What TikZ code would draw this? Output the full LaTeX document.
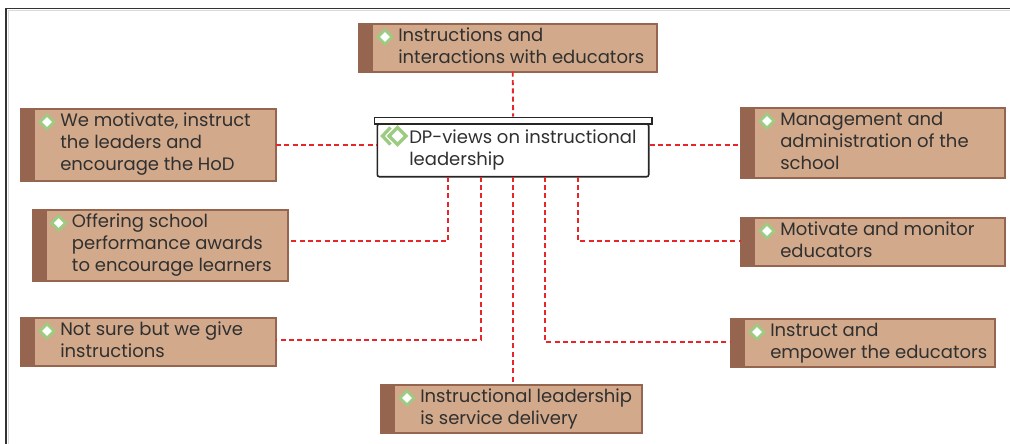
\documentclass[tikz,border=0pt]{standalone}
\usepackage{fontspec}
\setmainfont{Poppins}
\usetikzlibrary{fit,calc}
\definecolor{tanfill}{HTML}{D2A98A}
\definecolor{brn}{HTML}{96654F}
\definecolor{lnred}{HTML}{E8262A}
\definecolor{grn}{HTML}{9CCC82}
\definecolor{txt}{HTML}{303030}
\newcommand{\leaftext}[1]{\parbox[t]{300pt}{\raggedright #1}}
\newcommand{\leafbox}[6]{%
  \node[leaf, fit={(#2,#3) (#4,#5)}] (#1) {};
  \path[gem] ($(#2,#3)+(26,6)$) -- ++(7,7) -- ++(-7,7) -- ++(-7,-7) -- cycle;
  \node[ltext] (#1-t) at ($(#2,#3)+(39,17)$) {\leaftext{#6}};
}
\begin{document}
\begin{tikzpicture}[x=0.75pt,y=-0.75pt,
  leaf/.style={fill=tanfill, draw=brn, line width=1.5pt, inner sep=0pt,
    path picture={\fill[brn] (path picture bounding box.north west) rectangle ([xshift=10.5pt]path picture bounding box.south west);}},
  ltext/.style={anchor=base west, inner sep=0pt, text=txt,
    font=\fontsize{13.5}{16.5}\selectfont},
  conn/.style={draw=lnred, line width=1.4pt, dash pattern=on 3.75pt off 2.5pt},
  gem/.style={fill=white, draw=grn, line width=2.1pt}]
\useasboundingbox (0,0) rectangle (1010,443);
% frame
\draw[color=black!80, line width=1.1pt] (6,450) -- (6,8.5) -- (1020,8.5);
\draw[color=black!15, line width=0.8pt] (8.5,450) -- (8.5,10.5) -- (1020,10.5);

\coordinate (b1) at (448.3,176.7);
\coordinate (b2) at (480.7,176.7);
\coordinate (b3) at (512.7,176.7);
\coordinate (b4) at (545.3,176.7);
\coordinate (b5) at (578.3,176.7);
\coordinate (l1in) at (276,145);
\coordinate (r1in) at (741,145);
\coordinate (l2in) at (288,241.3);
\coordinate (r2in) at (741,241.3);
\coordinate (l3in) at (276,340);
\coordinate (r3in) at (731,342.3);
\coordinate (tin) at (512.7,71.7);
\coordinate (botin) at (512.7,385);

% leaves
\leafbox{top}{359}{24}{657}{71.7}{Instructions and\\interactions with educators}
\leafbox{left1}{21}{109}{276}{180.7}{We motivate, instruct\\the leaders and\\encourage the HoD}
\leafbox{right1}{741}{108}{1005}{177.7}{Management and\\administration of the\\school}
\leafbox{left2}{32.7}{210}{288}{281.3}{Offering school\\performance awards\\to encourage learners}
\leafbox{right2}{741}{218}{1005}{265.7}{Motivate and monitor\\educators}
\leafbox{left3}{21}{318}{276}{365.7}{Not sure but we give\\instructions}
\leafbox{right3}{731}{319}{995}{366.7}{Instruct and\\empower the educators}
\leafbox{bottom}{381}{385}{642}{432.7}{Instructional leadership\\is service delivery}

% central node
\node[fit={(377.3,124) (648.7,176.7)}, inner sep=0pt, fill=white, draw=black!85, line width=1.2pt, rounded corners=1.5pt] (c) {};
\node[fit={(374.3,117.3) (652,124)}, inner sep=0pt, fill=white, draw=black!85, line width=1.2pt] (lid) {};
\draw[grn, line width=2.5pt] (390.5,127.5) -- (382.5,136) -- (390.5,144.5);
\draw[grn, line width=2.5pt] (397.5,127.5) -- (406,136) -- (397.5,144.5) -- (389,136) -- cycle;
\node[ltext] (c-t) at (409,143) {\leaftext{DP-views on instructional\\leadership}};

% connectors
\draw[conn] (tin) -- (lid.north);
\draw[conn] (l1in) -- (l1in -| c.west);
\draw[conn] (r1in -| c.east) -- (r1in);
\draw[conn] (b1) |- (l2in);
\draw[conn] (b2) |- (l3in);
\draw[conn] (b3) -- (botin);
\draw[conn] (b4) |- (r3in);
\draw[conn] (b5) |- (r2in);
\end{tikzpicture}
\end{document}
